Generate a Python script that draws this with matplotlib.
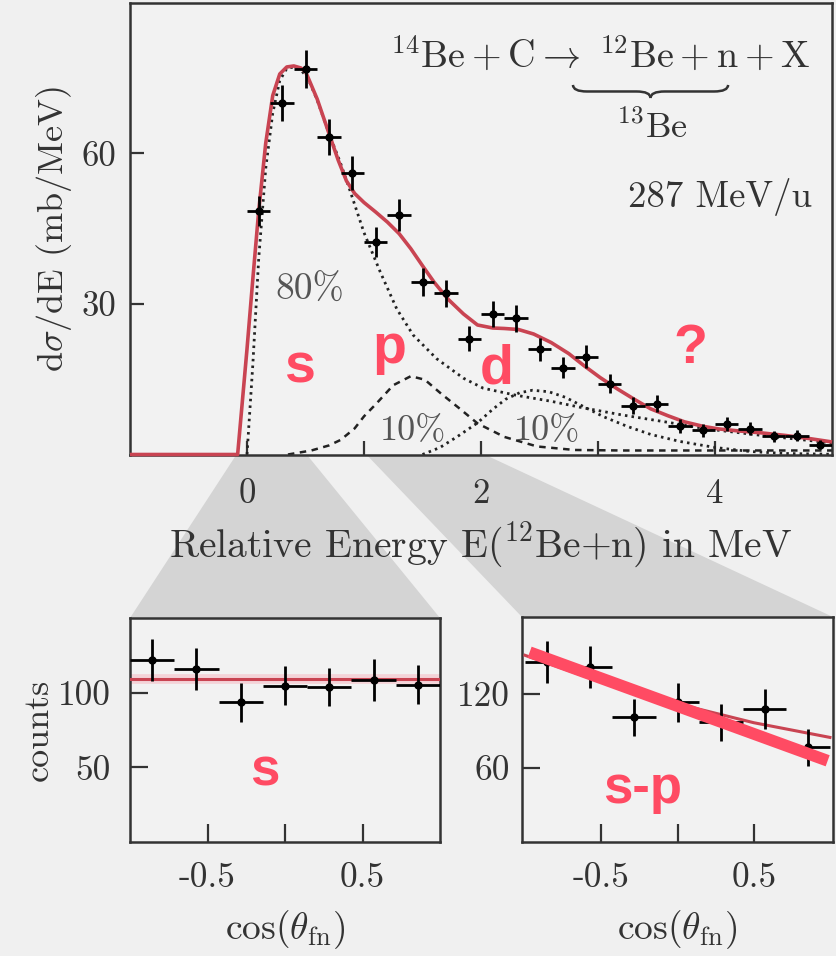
import matplotlib
matplotlib.use('Agg')
import matplotlib.pyplot as plt
from matplotlib.path import Path
from matplotlib.patches import PathPatch, Polygon
from matplotlib.ticker import FixedLocator

plt.rcParams['font.family'] = ['cmr10', 'DejaVu Serif']
plt.rcParams['mathtext.fontset'] = 'cm'
plt.rcParams['axes.unicode_minus'] = False
plt.rcParams['axes.formatter.use_mathtext'] = True

# ---------------- data: main spectrum ----------------
E_pts = [0.1, 0.3, 0.5, 0.7, 0.9, 1.1, 1.3, 1.5, 1.7, 1.9, 2.1, 2.3, 2.5,
         2.7, 2.9, 3.1, 3.3, 3.5, 3.7, 3.9, 4.1, 4.3, 4.5, 4.7, 4.9]
y_pts = [48.5, 70.1, 76.8, 63.2, 56.1, 42.4, 47.7, 34.4, 32.1, 23.1, 28.0, 27.1, 21.0,
         17.3, 19.5, 14.1, 9.7, 10.1, 5.7, 4.8, 6.1, 5.1, 3.6, 3.7, 1.9]
y_err = [3.0, 3.6, 3.8, 3.6, 3.4, 3.0, 3.2, 2.8, 2.7, 2.4, 2.6, 2.6, 2.3,
         2.1, 2.3, 1.9, 1.7, 1.7, 1.4, 1.3, 1.4, 1.3, 1.1, 1.1, 0.9]
E_binhalf = 0.1

E_fit = [-1.0, -0.08, 0.0, 0.05, 0.10, 0.16, 0.22, 0.28, 0.34, 0.40, 0.46, 0.50, 0.60,
         0.70, 0.78, 0.85, 0.92, 1.00, 1.10, 1.20, 1.30, 1.40, 1.50, 1.60, 1.72, 1.85,
         1.97, 2.10, 2.20, 2.32, 2.45, 2.60, 2.75, 2.88, 3.02, 3.17, 3.31, 3.45, 3.60,
         3.74, 3.90, 4.03, 4.20, 4.40, 4.60, 4.80, 5.0]
y_fit = [0.0, 0.0, 21.0, 35.0, 48.5, 62.0, 71.5, 75.8, 77.2, 77.4, 77.0, 76.3, 70.8,
         64.0, 58.6, 54.5, 52.0, 50.2, 48.3, 46.3, 44.0, 41.0, 37.6, 34.3, 30.9, 28.0,
         25.8, 25.2, 25.1, 24.9, 24.0, 22.3, 20.1, 17.7, 15.3, 13.0, 11.0, 9.1, 7.7,
         6.5, 5.6, 5.1, 4.7, 4.3, 3.8, 3.2, 2.5]

E_s = [0.0, 0.05, 0.10, 0.16, 0.22, 0.28, 0.34, 0.40, 0.46, 0.52, 0.60, 0.70, 0.80,
       0.87, 1.00, 1.14, 1.28, 1.42, 1.62, 1.85, 2.02, 2.30, 2.60, 2.85, 3.20, 3.60,
       3.93, 4.40, 5.0]
y_s = [0.0, 18.0, 39.0, 57.0, 68.0, 74.5, 76.9, 77.2, 76.6, 75.0, 70.6, 64.0, 58.0,
       53.3, 44.2, 36.3, 29.0, 23.8, 19.1, 15.2, 13.2, 11.8, 10.6, 9.4, 7.9, 6.4,
       5.1, 3.8, 2.3]

E_p = [0.35, 0.55, 0.70, 0.80, 0.92, 1.00, 1.10, 1.25, 1.40, 1.52, 1.66, 1.82, 1.97,
       2.20, 2.48, 2.80, 3.20, 4.00, 5.0]
y_p = [0.0, 0.8, 1.8, 2.9, 5.2, 7.6, 10.0, 13.8, 15.6, 14.9, 12.1, 9.1, 6.2,
       3.5, 1.6, 0.9, 0.8, 0.8, 0.8]

E_d = [1.50, 1.65, 1.80, 1.97, 2.10, 2.21, 2.33, 2.44, 2.58, 2.72, 2.88, 3.05, 3.25,
       3.45, 3.70, 4.00, 4.30, 4.60, 5.0]
y_d = [0.0, 1.4, 3.6, 6.3, 9.0, 11.0, 12.3, 12.8, 12.5, 11.4, 9.5, 7.5, 5.6,
       4.0, 2.6, 1.4, 0.6, 0.2, 0.05]

# funnel source ranges on the energy axis
funnel_s = [-0.09, 0.51]
funnel_sp = [1.02, 2.03]

# ---------------- data: angular distributions ----------------
cos_pts = [-0.857, -0.571, -0.286, 0.0, 0.286, 0.571, 0.857]
cos_half = 0.143
cnt_s = [121.8, 116.0, 93.5, 104.7, 103.8, 108.3, 105.4]
cnt_s_err = [14, 14, 13, 13, 13, 14, 13]
fit_s_x = [-1.0, 1.0]
fit_s_y = [109.3, 109.3]

cnt_sp = [145.4, 141.4, 100.8, 113.0, 96.8, 107.6, 76.5]
cnt_sp_err = [17, 17, 15, 16, 15, 16, 15]
fit_sp_x = [-1.0, -0.5, 0.0, 0.5, 1.0]
fit_sp_y = [151.0, 129.5, 111.8, 96.5, 84.6]
line_sp_x = [-0.97, 0.985]
line_sp_y = [153.5, 65.7]

# ---------------- figure ----------------
BG = '#f0f0f0'
INK = '#333333'
RED = '#c94452'
PINK = '#ff4b63'
W, H = 836, 956
fig = plt.figure(figsize=(W / 100, H / 100), dpi=100, facecolor=BG)


def box(l, r, t, b):
    return [l / W, 1 - b / H, (r - l) / W, (b - t) / H]


ax = fig.add_axes(box(130, 832, 2.7, 454.5))
axL = fig.add_axes(box(130, 440, 618, 842))
axR = fig.add_axes(box(522, 833, 617, 842))

for a in (ax, axL, axR):
    a.set_facecolor('#f2f2f2')
    for sp in a.spines.values():
        sp.set_color(INK)
        sp.set_linewidth(1.8)

# main panel
ax.set_xlim(-1, 5)
ax.set_ylim(0, 90)
ax.plot(E_fit, y_fit, color=RED, lw=2.6, zorder=3, clip_on=False, solid_capstyle='butt')
ax.plot(E_s, y_s, color='#222222', lw=2.0, ls=(0, (0.9, 1.5)), zorder=2)
ax.plot(E_p, y_p, color='#222222', lw=1.8, ls=(0, (2.6, 2.2)), zorder=2)
ax.plot(E_d, y_d, color='#222222', lw=2.0, ls=(0, (0.9, 1.5)), zorder=2)
ax.errorbar(E_pts, y_pts, xerr=E_binhalf, yerr=y_err, fmt='o', color='k', ms=5,
            elinewidth=2.0, capsize=0, zorder=4)

ax.xaxis.set_major_locator(FixedLocator([0, 2, 4]))
ax.xaxis.set_minor_locator(FixedLocator([1, 3]))
ax.set_xticklabels(['0', '2', '4'])
ax.yaxis.set_major_locator(FixedLocator([30, 60]))
ax.set_yticklabels(['30', '60'])
ax.tick_params(which='both', direction='in', length=10, width=1.6, color=INK,
               labelsize=25, labelcolor=INK, top=False, right=False)
ax.tick_params(axis='x', pad=17)
ax.tick_params(axis='y', pad=10)
ax.set_xlabel(r'Relative Energy E($^{12}$Be+n) in MeV', fontsize=28.5, color=INK, labelpad=8)
ax.set_ylabel(r'd$\sigma$/dE (mb/MeV)', fontsize=26, color=INK, labelpad=5)

ax.text(0.9687, 0.855, r'$^{14}\mathrm{Be} + \mathrm{C} \rightarrow\ ^{12}\mathrm{Be} + \mathrm{n} + \mathrm{X}$',
        transform=ax.transAxes, ha='right', va='baseline', fontsize=27.5, color=INK)
ax.text(0.744, 0.700, r'$^{13}\mathrm{Be}$', transform=ax.transAxes, ha='center',
        va='baseline', fontsize=26, color=INK)
ax.text(0.9715, 0.548, '287 MeV/u', transform=ax.transAxes, ha='right', va='baseline',
        fontsize=26.5, color=INK)

# under-brace
x0, x1, yt, yb = 0.631, 0.852, 0.818, 0.789
xm, ym, dx = (x0 + x1) / 2, (yt + yb) / 2, 0.02
codes = [Path.MOVETO, Path.CURVE3, Path.CURVE3, Path.LINETO, Path.CURVE3, Path.CURVE3]
for xe, s in ((x0, 1), (x1, -1)):
    verts = [(xe, yt), (xe, ym), (xe + s * dx, ym), (xm - s * dx, ym), (xm, ym), (xm, yb)]
    ax.add_patch(PathPatch(Path(verts, codes), transform=ax.transAxes, fill=False,
                           edgecolor=INK, lw=1.8))

ax.text(0.54, 30.8, '80%', ha='center', va='baseline', fontsize=27, color='#555555')
ax.text(1.42, 2.9, '10%', ha='center', va='baseline', fontsize=26, color='#555555')
ax.text(2.56, 2.9, '10%', ha='center', va='baseline', fontsize=26, color='#555555')

redfont = dict(family=['Liberation Sans', 'DejaVu Sans'], weight='bold', color=PINK,
               ha='center', va='baseline')
ax.text(0.45, 14.4, 's', fontsize=40, **redfont)
ax.text(1.22, 18.2, 'p', fontsize=40, **redfont)
ax.text(2.13, 14.2, 'd', fontsize=40, **redfont)
ax.text(3.79, 18.2, '?', fontsize=40, **redfont)

# lower-left panel (s)
axL.set_xlim(-1, 1)
axL.set_ylim(0, 150)
axL.plot(fit_s_x, fit_s_y, color=PINK, lw=7, alpha=0.18, zorder=2)
axL.plot(fit_s_x, fit_s_y, color=RED, lw=2.2, zorder=3)
axL.errorbar(cos_pts, cnt_s, xerr=cos_half, yerr=cnt_s_err, fmt='o', color='k', ms=5,
             elinewidth=2.0, capsize=0, zorder=4)
axL.text(-0.13, 37.8, 's', fontsize=38, **redfont)
axL.set_yticks([50, 100])
axL.set_yticklabels(['50', '100'])
axL.set_ylabel('counts', fontsize=26, color=INK, labelpad=2)

# lower-right panel (s-p)
axR.set_xlim(-1.02, 1.02)
axR.set_ylim(0, 182)
axR.plot(fit_sp_x, fit_sp_y, color=RED, lw=2.2, zorder=3)
axR.errorbar(cos_pts, cnt_sp, xerr=cos_half, yerr=cnt_sp_err, fmt='o', color='k', ms=5,
             elinewidth=2.0, capsize=0, zorder=4)
axR.plot(line_sp_x, line_sp_y, color=PINK, lw=8.5, zorder=5, solid_capstyle='butt')
axR.text(-0.23, 31.6, 's-p', fontsize=38, **redfont)
axR.set_yticks([60, 120])
axR.set_yticklabels(['60', '120'])

for a in (axL, axR):
    a.set_xticks([-0.5, 0, 0.5])
    a.set_xticklabels(['-0.5', '', '0.5'])
    a.tick_params(direction='in', length=13, width=1.6, color=INK, labelsize=25.5,
                  labelcolor=INK, top=False, right=False)
    a.tick_params(axis='x', pad=15)
    a.set_xlabel(r'cos$(\theta_{\mathrm{fn}})$', fontsize=27, color=INK, labelpad=10)
axL.tick_params(axis='y', pad=14)
axR.tick_params(axis='y', pad=9)

# grey funnels connecting energy ranges with the angular panels
inv = fig.transFigure.inverted()


def fpt(a, x, y, data=True):
    tr = a.transData if data else a.transAxes
    return inv.transform(tr.transform((x, y)))


for rng, target in ((funnel_s, axL), (funnel_sp, axR)):
    pts = [fpt(ax, rng[0], 0), fpt(ax, rng[1], 0),
           fpt(target, 1, 1, False), fpt(target, 0, 1, False)]
    fig.add_artist(Polygon(pts, closed=True, transform=fig.transFigure,
                           facecolor='#d4d4d4', edgecolor='none', zorder=-1))

fig.savefig('out.png', dpi=100, facecolor=BG)
